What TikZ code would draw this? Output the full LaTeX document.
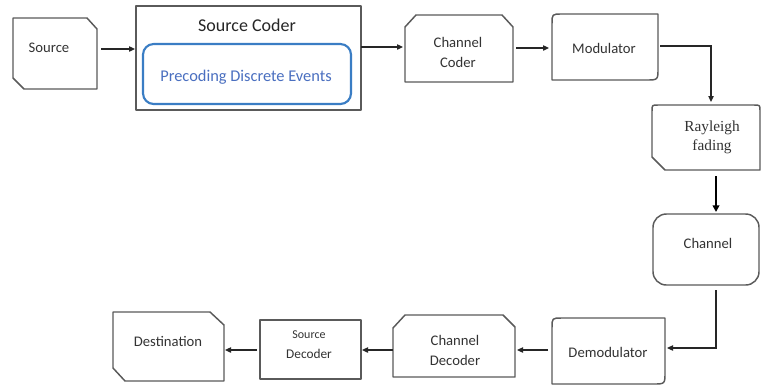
\documentclass[tikz,border=0pt]{standalone}
\usepackage{fontspec}
\setmainfont{Carlito}
\newfontfamily\serifF{Liberation Serif}
\usetikzlibrary{arrows.meta,fit,calc}
\definecolor{boxgray}{HTML}{5A5A5A}
\definecolor{innerblue}{HTML}{3A7DC4}
\definecolor{txtblue}{HTML}{4A6FC0}
\definecolor{txtgray}{HTML}{333333}
\begin{document}
\begin{tikzpicture}[x=0.75pt,y=-0.75pt,
  area/.style={inner sep=0pt,outer sep=0pt},
  shapeline/.style={draw=boxgray,line width=1.1pt,line join=round},
  lbl/.style={font=\fontsize{11}{15}\selectfont,text=txtgray,align=center,inner sep=0pt},
  arr/.style={draw=black!85,line width=0.9pt,-{Triangle[length=4.5pt,width=4pt]}},
  tharr/.style={draw=black,line width=1.6pt,-{Triangle[length=5pt,width=5pt]}}]
\useasboundingbox (0,0) rectangle (762,386);
\fill[white] (0,0) rectangle (762,386);

% invisible areas for each box
\node[area,fit={(13,18)(97,89)}] (src) {};
\node[area,fit={(136,6)(361,110)}] (sc) {};
\node[area,fit={(405,15)(513,82)}] (cc) {};
\node[area,fit={(552,14)(658,80)}] (mod) {};
\node[area,fit={(652,105)(760,170)}] (ray) {};
\node[area,fit={(653,214)(759,285)}] (chn) {};
\node[area,fit={(552,318)(665,384)}] (dem) {};
\node[area,fit={(393,315)(515,377)}] (cd) {};
\node[area,fit={(260,320)(361,379)}] (sd) {};
\node[area,fit={(113,312)(224,381)}] (dst) {};

% shapes
\draw[shapeline] (13,18) -- (87,18) -- (97,29) -- (97,89) -- (24,89) -- (13,78) -- cycle;
\draw[shapeline] (136,6) rectangle (361,110);
\draw[innerblue,line width=1.6pt,rounded corners=8] (143,44) rectangle (351,104);
\draw[shapeline] (405,27) -- (416,15) -- (502,15) -- (513,27) -- (513,82) -- (405,82) -- cycle;
\draw[shapeline] (552,80) -- (552,24) .. controls (552,14) .. (562,14) -- (658,14) -- (658,68) .. controls (658,80) .. (646,80) -- cycle;
\draw[shapeline] (665,170) -- (652,157) -- (652,111) .. controls (652,105) .. (658,105) -- (754,105) .. controls (760,105) .. (760,111) -- (760,170) -- cycle;
\draw[shapeline,rounded corners=10] (653,214) rectangle (759,285);
\draw[shapeline] (552,384) -- (552,328) .. controls (552,318) .. (562,318) -- (665,318) -- (665,372) .. controls (665,384) .. (653,384) -- cycle;
\draw[shapeline] (393,328) -- (405,315) -- (503,315) -- (515,327) -- (515,377) -- (393,377) -- cycle;
\draw[shapeline] (260,320) rectangle (361,379);
\draw[shapeline] (113,312) -- (210,312) -- (224,325) -- (224,381) -- (125,381) -- (113,368) -- cycle;

% texts
\node[lbl] (tsrc) at (49,48) {Source};
\node[lbl,font=\fontsize{13.5}{17}\selectfont,text=black!85] (tsc) at (247,25) {Source Coder};
\node[lbl,font=\fontsize{12.3}{15}\selectfont,text=txtblue] (tpre) at (246,77) {Precoding Discrete Events};
\node[lbl] (tcc) at (458,52) {Channel\\Coder};
\node[lbl] (tmod) at (604,48) {Modulator};
\node[lbl,font=\serifF\fontsize{11.5}{14.5}\selectfont] (tray) at (712,137.5) {Rayleigh\\fading};
\node[lbl] (tchn) at (708,243) {Channel};
\node[lbl] (tdem) at (608,352) {Demodulator};
\node[lbl] (tcd) at (455,350) {Channel\\Decoder};
\node[lbl,font=\fontsize{10}{15}\selectfont] (tsd) at (309,345) {{\fontsize{9}{15}\selectfont Source}\\Decoder};
\node[lbl] (tdst) at (168,341) {Destination};

% connectors
\draw[arr] ([shift={(4,-4.5)}]src.east) -- ([shift={(-1,-9)}]sc.west);
\draw[arr] ([shift={(0,-11)}]sc.east) -- ([shift={(-2,-1.5)}]cc.west);
\draw[arr] ([shift={(3,-0.5)}]cc.east) -- ([shift={(-3,1)}]mod.west);
\draw[arr] ([shift={(2,-1)}]mod.east) -| ([shift={(5,-3)}]ray.north);
\draw[tharr] ([shift={(10,6)}]ray.south) -- ([shift={(10,-2)}]chn.north);
\draw[arr] ([shift={(10,5)}]chn.south) |- ([shift={(2,-3)}]dem.east);
\draw[arr] ([shift={(-4,-1)}]dem.west) -- ([shift={(2,4)}]cd.east);
\draw[arr] ([shift={(0,4)}]cd.west) -- ([shift={(1,0.5)}]sd.east);
\draw[arr] ([shift={(-3,0.5)}]sd.west) -- ([shift={(1,3.5)}]dst.east);
\end{tikzpicture}
\end{document}
